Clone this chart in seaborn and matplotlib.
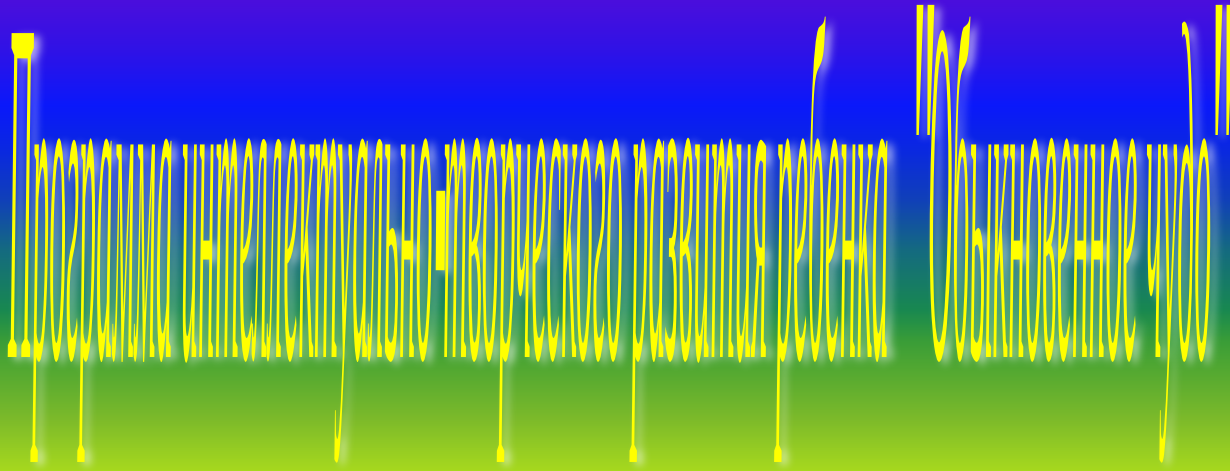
import matplotlib
matplotlib.use("Agg")
import matplotlib.pyplot as plt
import matplotlib.patheffects as pe
from matplotlib.colors import LinearSegmentedColormap
from matplotlib.path import Path
import numpy as np
import seaborn as sns

text_parts = ["Программа интеллектуально", "-", "творческого развития ребенка",
              "\"", "Обыкновенное чудо", "\""]

# background gradient, y in pixels from the top
stop_rows = [0, 50, 105, 150, 200, 250, 310, 340, 365, 420, 471]
stop_colors = ["#4a0edc", "#2f12e6", "#0a18fa", "#0a28e0", "#1040b8", "#146a80",
               "#188850", "#389c38", "#4ea632", "#7cba2a", "#a6d81e"]

# font height (units of 1/100 em) -> pixels above the baseline
LETTER_Y = ([-30, -21.3, 0, 46.65, 65.5, 67, 71.4, 100], [-125, -105, 0, 216, 324, 330, 340, 400])
HYPHEN_Y = ([0, 20, 27.4, 100], [0, 90, 165, 400])
QUOTE_Y = ([0, 42, 66, 100], [0, 222, 355, 500])


class Squash(pe.AbstractPathEffect):
    # stretch the glyph outlines, the text stays a text object
    def __init__(self, sx, ymap):
        super().__init__()
        self.sx = sx
        self.ymap = ymap

    def draw_path(self, renderer, gc, tpath, affine, rgbFace=None):
        v = np.array(tpath.vertices, dtype=float)
        v[:, 0] *= self.sx
        v[:, 1] = np.interp(v[:, 1], self.ymap[0], self.ymap[1])
        renderer.draw_path(gc, Path(v, tpath.codes), affine, rgbFace)


def glow(img, dpi):
    # white blurred copy of the text
    k = np.exp(-0.5 * (np.arange(-12, 13) / 4.0) ** 2)
    k = k / k.sum()
    pad = 15
    out = np.pad(img, ((pad, pad), (pad, pad), (0, 0)))
    a = out[:, :, 3]
    a = np.apply_along_axis(np.convolve, 0, a, k, mode="same")
    a = np.apply_along_axis(np.convolve, 1, a, k, mode="same")
    out[:, :, :3] = 1
    out[:, :, 3] = np.clip(a * 0.6, 0, 1)
    return out, -pad, -pad


W, H = 1230, 471
BASE = 357
fig = plt.figure(figsize=(W / 100, H / 100), dpi=100)
ax = fig.add_axes([0, 0, 1, 1])

cmap = LinearSegmentedColormap.from_list(
    "bg", [(r / stop_rows[-1], c) for r, c in zip(stop_rows, stop_colors)], N=512
)
rows = np.arange(H).reshape(-1, 1) / (H - 1)
sns.heatmap(rows, ax=ax, cmap=cmap, vmin=0, vmax=1, cbar=False,
            xticklabels=False, yticklabels=False)


def put(s, x, sx, ymap, weight="normal"):
    # fontsize 72 at dpi 100 is 100 px per em, so outline units are pixels
    kw = dict(fontsize=72, family="Liberation Serif", style="italic", weight=weight,
              va="baseline", ha="left")
    shadow = fig.text((x + 6) / W, 1 - (BASE + 3) / H, s, color="white", **kw)
    shadow.set_path_effects([Squash(sx, ymap)])
    shadow.set_agg_filter(glow)
    fig.text(x / W, 1 - BASE / H, s, color="#ffff00", path_effects=[Squash(sx, ymap)], **kw)


put(text_parts[0], 8, 0.337, LETTER_Y)
put(text_parts[1], 435, 0.343, HYPHEN_Y, "bold")
put(text_parts[2], 443, 0.3395, LETTER_Y)
put(text_parts[3], 906, 0.58, QUOTE_Y, "bold")
put(text_parts[4], 928, 0.339, LETTER_Y)
put(text_parts[5], 1205, 0.58, QUOTE_Y, "bold")

fig.savefig("out.png", dpi=100)
